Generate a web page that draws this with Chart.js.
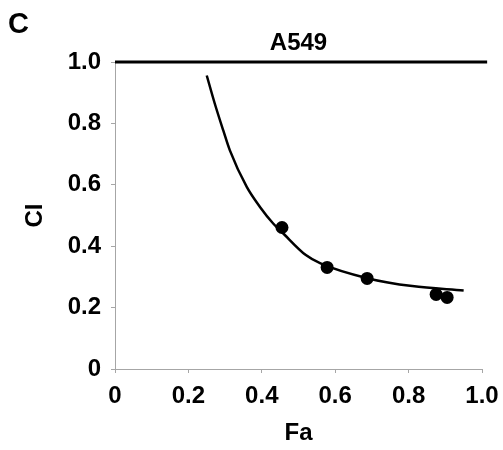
<!DOCTYPE html>
<html>
<head>
<meta charset="utf-8">
<script src="https://cdn.jsdelivr.net/npm/chart.js@4"></script>
<style>
  html, body { margin: 0; padding: 0; background: #fff; }
  #wrap { width: 503px; height: 450px; position: relative; }
</style>
</head>
<body>
<div id="wrap"><canvas id="chart"></canvas></div>
<script>
/* ── Data ── */
const faPoints = [0.455, 0.578, 0.687, 0.875, 0.905];
const ciPoints = [0.461, 0.331, 0.295, 0.243, 0.233];

const faCurve = [0.25, 0.272, 0.295, 0.313, 0.359, 0.395, 0.431, 0.454, 0.52, 0.56, 0.69, 0.81, 0.95];
const ciCurve = [0.956, 0.864, 0.777, 0.712, 0.593, 0.528, 0.474, 0.447, 0.371, 0.344, 0.295, 0.270, 0.256];

const refFa = [0, 1.014];
const refCi = [1, 1];

const tickLabels = ['0', '0.2', '0.4', '0.6', '0.8', '1.0'];

const toXY = (xs, ys) => xs.map((x, i) => ({ x, y: ys[i] }));
const FAMILY = "'Liberation Sans', Arial, sans-serif";
const fontBold = size => ({ family: FAMILY, size, weight: 'bold' });

/* ── Panel letter + plot title ── */
const labels = {
  id: 'labels',
  afterDraw(chart) {
    const { ctx, chartArea } = chart;
    ctx.save();
    ctx.fillStyle = '#000';
    ctx.textBaseline = 'alphabetic';
    ctx.font = `bold 29px ${FAMILY}`;
    ctx.textAlign = 'left';
    ctx.fillText('C', 8, 33);
    ctx.font = `bold 24px ${FAMILY}`;
    ctx.textAlign = 'center';
    ctx.fillText('A549', (chartArea.left + chartArea.right) / 2, 50);
    ctx.restore();
  }
};

const axisCommon = {
  type: 'linear',
  min: 0,
  max: 1,
  grid: { display: true, drawOnChartArea: false, drawTicks: true, tickLength: 4, color: '#a6a6a6', lineWidth: 1 },
  border: { display: true, color: '#a6a6a6', width: 1 },
  ticks: {
    stepSize: 0.2,
    color: '#000',
    font: fontBold(24),
    callback: v => tickLabels[Math.round(v / 0.2)]
  }
};

new Chart(document.getElementById('chart'), {
  type: 'scatter',
  data: {
    datasets: [
      { label: 'ref', data: toXY(refFa, refCi), showLine: true, borderColor: '#000', borderWidth: 3, pointRadius: 0, clip: false },
      { label: 'fit', data: toXY(faCurve, ciCurve), showLine: true, borderColor: '#000', borderWidth: 2.5, pointRadius: 0, cubicInterpolationMode: 'monotone' },
      { label: 'CI', data: toXY(faPoints, ciPoints), showLine: false, pointRadius: 6.5, backgroundColor: '#000', borderColor: '#000', borderWidth: 0 }
    ]
  },
  options: {
    responsive: true,
    maintainAspectRatio: false,
    animation: false,
    layout: { padding: { left: 0, right: 21, top: 62, bottom: 0 } },
    plugins: {
      legend: { display: false },
      tooltip: { enabled: false },
      title: { display: false }
    },
    scales: {
      x: {
        ...axisCommon,
        position: 'bottom',
        ticks: { ...axisCommon.ticks, padding: 9, maxRotation: 0 },
        title: { display: true, text: 'Fa', color: '#000', font: fontBold(24), padding: { top: 0, bottom: 2 } },
        afterFit: s => { s.height = 81; s.paddingLeft = 0; s.paddingRight = 0; }
      },
      y: {
        ...axisCommon,
        position: 'left',
        ticks: { ...axisCommon.ticks, padding: 10 },
        title: { display: true, text: 'CI', color: '#000', font: fontBold(24), padding: { top: 21, bottom: 0 } },
        afterFit: s => { s.width = 115; s.paddingTop = 0; s.paddingBottom = 0; }
      }
    }
  },
  plugins: [labels]
});
</script>
</body>
</html>
